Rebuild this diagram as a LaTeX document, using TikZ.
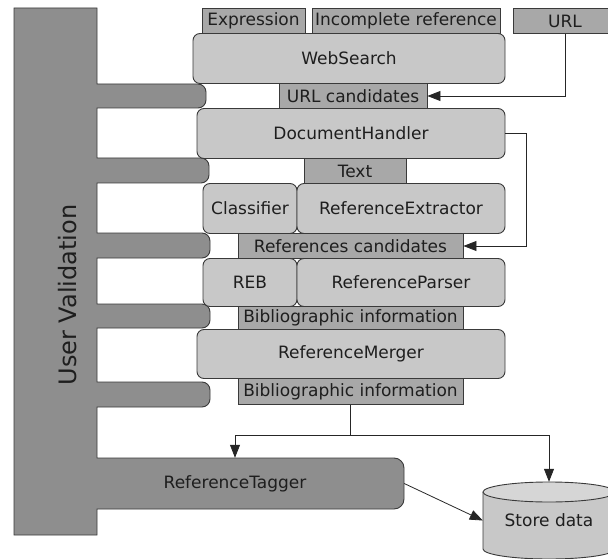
\documentclass[tikz,border=0pt]{standalone}
\usepackage{fontspec}
\setmainfont{DejaVu Sans}
\usetikzlibrary{arrows.meta}
\definecolor{colgray}{HTML}{8E8E8E}
\definecolor{lblgray}{HTML}{A8A8A8}
\definecolor{boxgray}{HTML}{C8C8C8}
\definecolor{edgegray}{HTML}{3A3A3A}
\definecolor{txt}{HTML}{1E1E1E}
\newcommand{\fingerpart}[4]{-- (97,#1) -- ({#3-#4},#1) arc[start angle=-90,end angle=0,radius=#4] -- (#3,{#2-#4}) arc[start angle=0,end angle=90,radius=#4] -- (97,#2)}
\begin{document}
\begin{tikzpicture}[x=1pt,y=-1pt,
  every node/.style={font=\fontsize{17}{19}\selectfont, inner sep=0pt, text=txt},
  lbl/.style={draw=edgegray, fill=lblgray, line width=0.9pt},
  proc/.style={draw=edgegray, fill=boxgray, rounded corners=7pt, line width=0.9pt},
  plain/.style={},
  arr/.style={draw=black!85, line width=0.8pt, -{Triangle[length=13pt,width=10pt]}},
  conn/.style={draw=black!85, line width=0.8pt}]
\useasboundingbox (0,0) rectangle (608,559);

% User validation column with fingers
\draw[fill=colgray, draw=edgegray, line width=0.9pt]
  (14,8) -- (97,8)
  \fingerpart{84}{108}{206}{8}
  \fingerpart{158}{183}{209}{8}
  \fingerpart{233}{258}{210}{8}
  \fingerpart{304}{328}{210}{8}
  \fingerpart{382}{407}{210}{8}
  \fingerpart{458}{509}{404}{10}
  -- (97,535) -- (14,535) -- cycle;
\node[rotate=90, font=\fontsize{24}{26}\selectfont] (uv) at (68,295) {User Validation};
\node[plain, minimum width=338pt, minimum height=51pt] (tagger) at (235,483.5) {ReferenceTagger};

% inputs
\node[lbl, minimum width=103pt, minimum height=25pt] (expr) at (253.5,21) {Expression};
\node[lbl, minimum width=188pt, minimum height=25pt] (incref) at (406,21) {Incomplete reference};
\node[lbl, minimum width=104pt, minimum height=25pt] (url) at (565,21) {URL};

% pipeline
\node[proc, minimum width=312pt, minimum height=50pt] (websearch) at (349,58.5) {WebSearch};
\node[lbl, minimum width=148pt, minimum height=25pt] (urlc) at (353,96) {URL candidates};
\node[proc, minimum width=308pt, minimum height=50pt] (dochandler) at (351,133.5) {DocumentHandler};
\node[lbl, minimum width=102pt, minimum height=25pt] (text) at (355,171) {Text};
\node[proc, minimum width=94pt, minimum height=50pt] (classifier) at (250,208.5) {Classifier};
\node[proc, minimum width=208pt, minimum height=50pt] (refext) at (401,208.5) {ReferenceExtractor};
\node[lbl, minimum width=225pt, minimum height=25pt] (refcand) at (350.5,246) {References candidates};
\node[proc, minimum width=94pt, minimum height=48pt] (reb) at (250,282.5) {REB};
\node[proc, minimum width=208pt, minimum height=48pt] (refparser) at (401,282.5) {ReferenceParser};
\node[lbl, minimum width=225pt, minimum height=23pt] (bib1) at (350.5,318) {Bibliographic information};
\node[proc, minimum width=308pt, minimum height=49pt] (refmerger) at (351,354) {ReferenceMerger};
\node[lbl, minimum width=225pt, minimum height=26pt] (bib2) at (350.5,391.5) {Bibliographic information};

% store data cylinder
\fill[boxgray] (483,492) -- (483,549) arc[start angle=180,end angle=0,x radius=66,y radius=10] -- (615,492) -- cycle;
\draw[draw=edgegray, line width=0.9pt] (483,492) -- (483,549) arc[start angle=180,end angle=0,x radius=66,y radius=10] -- (615,492);
\draw[draw=edgegray, fill=boxgray!75!white, line width=0.9pt] (549,492) ellipse[x radius=66, y radius=10];
\node[plain, minimum width=132pt, minimum height=77pt] (store) at (549,520.5) {Store data};

% connectors
\draw[arr] (url.south) |- (urlc.east);
\draw[arr] (dochandler.east) -- ++(21,0) |- (refcand.east);
\coordinate (split) at ([yshift=-30pt]bib2.south);
\draw[conn] (bib2.south) -- (split);
\draw[arr] (split) -| (tagger.north);
\draw[arr] (split) -| (store.north);
\draw[arr] (tagger.east) -- (store.west);
\end{tikzpicture}
\end{document}
